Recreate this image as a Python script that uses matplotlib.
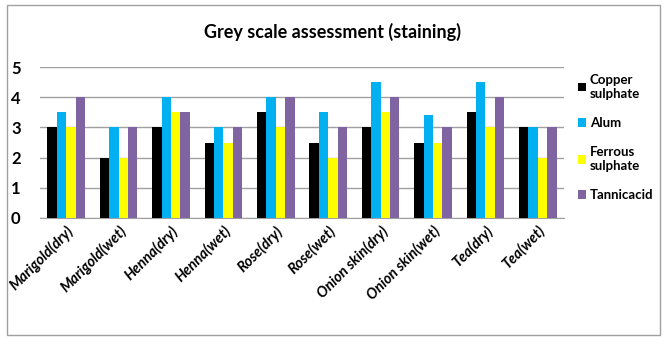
import matplotlib
matplotlib.use("Agg")
import matplotlib.pyplot as plt
import numpy as np
from matplotlib.patches import Rectangle

categories = ["Marigold(dry)", "Marigold(wet)", "Henna(dry)", "Henna(wet)", "Rose(dry)",
              "Rose(wet)", "Onion skin(dry)", "Onion skin(wet)", "Tea(dry)", "Tea(wet)"]
copper = [3, 2, 3, 2.5, 3.5, 2.5, 3, 2.5, 3.5, 3]
alum = [3.5, 3, 4, 3, 4, 3.5, 4.5, 3.4, 4.5, 3]
ferrous = [3, 2, 3.5, 2.5, 3, 2, 3.5, 2.5, 3, 2]
tannic = [4, 3, 3.5, 3, 4, 3, 4, 3, 4, 3]
series_names = ["Copper\nsulphate", "Alum", "Ferrous\nsulphate", "Tannicacid"]
colors = ["#000000", "#00B0F0", "#FFFF00", "#8064A2"]

W, H = 666, 346
fig = plt.figure(figsize=(W/100, H/100), dpi=100)
fig.patches.append(Rectangle((7/W, 1-335/H), 653/W, 330/H, transform=fig.transFigure,
                             fill=False, edgecolor="#A0A0A0", lw=1))
ax = fig.add_axes([40/W, 1-218/H, 524/W, 151/H])
x = np.arange(len(categories))
bw = 0.18
for i, (vals, name, c) in enumerate(zip([copper, alum, ferrous, tannic], series_names, colors)):
    ax.bar(x + (i-1.5)*bw, vals, bw, color=c, label=name, zorder=3)
ax.set_xlim(-0.5, len(categories)-0.5)
ax.set_ylim(0, 5)
ax.set_yticks(range(6))
ax.yaxis.grid(True, color="#A0A0A0", lw=1, zorder=0)
for s in ["top", "right", "left"]:
    ax.spines[s].set_visible(False)
ax.spines["bottom"].set_color("#A0A0A0")
ax.tick_params(axis="both", length=0)
ax.tick_params(axis="y", pad=14)
ax.set_yticklabels([str(v) for v in range(6)], fontsize=12, fontweight="bold", family="Lato")
ax.set_xticks(x)
ax.set_xticklabels(categories, rotation=45, ha="right", rotation_mode="anchor",
                   fontsize=10.5, fontweight="bold", style="italic", family="Lato")
ax.tick_params(axis="x", pad=4)
fig.text(332/W, 1-32/H, "Grey scale assessment (staining)", ha="center", va="center",
         fontsize=13, fontweight="bold", family="Lato")
leg = fig.legend(loc="upper left", bbox_to_anchor=(566/W, 1-62/H), frameon=False,
                 prop={"family": "Lato", "weight": "bold", "size": 9.5},
                 handlelength=0.6, handleheight=0.6, handletextpad=0.3, labelspacing=1.3)
fig.savefig("out.png", dpi=100)
